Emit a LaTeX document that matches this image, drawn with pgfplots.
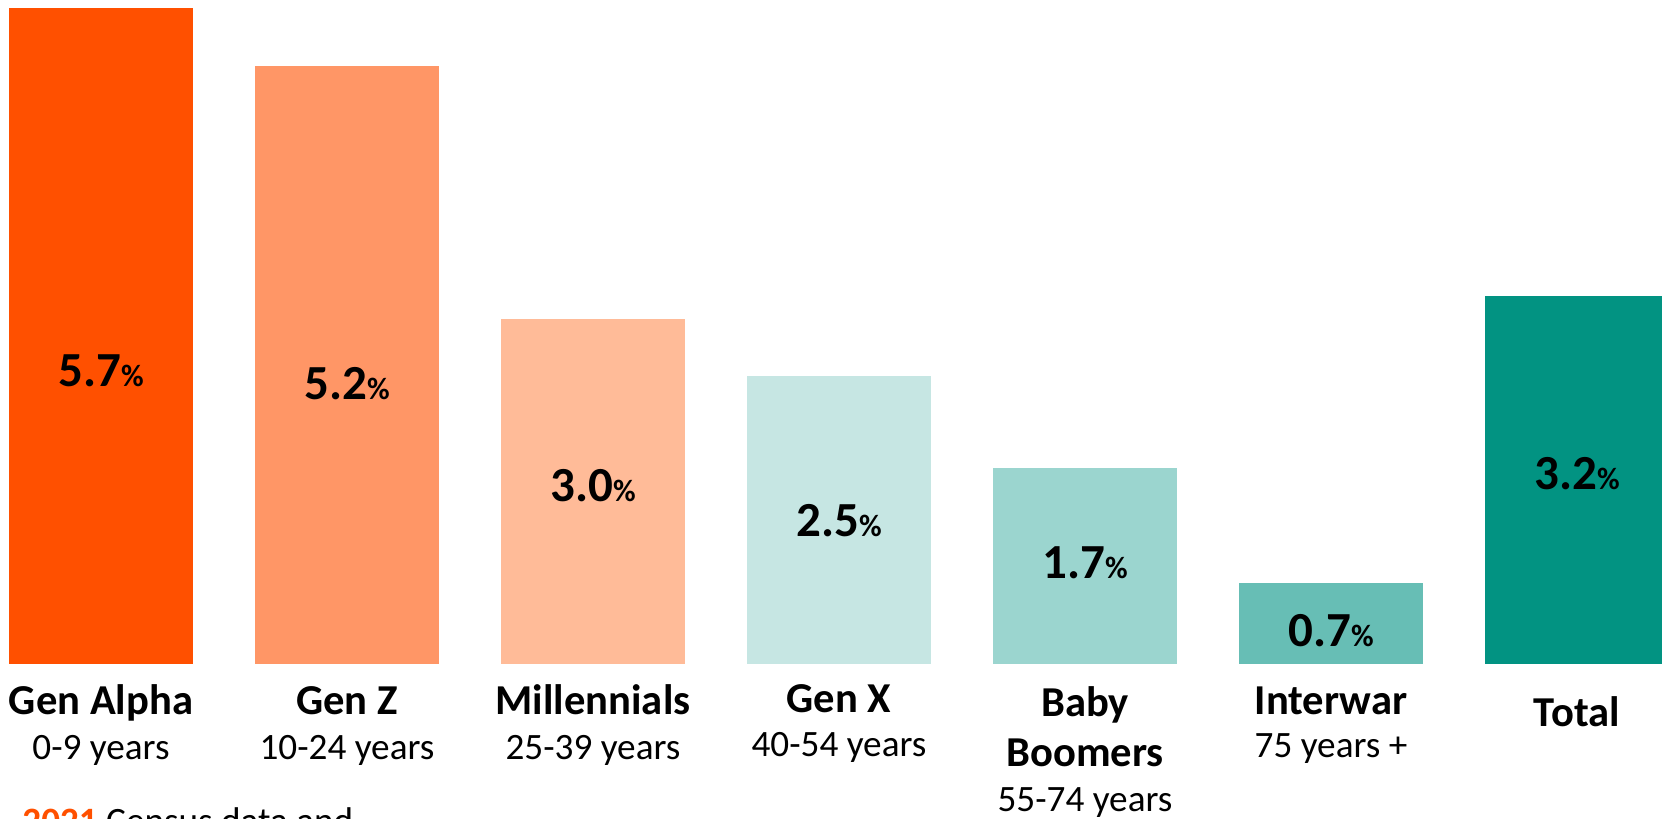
\documentclass[border=0pt]{standalone}
\usepackage{pgfplots}
\pgfplotsset{compat=1.18}
\usepackage{fontspec}
\setmainfont{Carlito}
\definecolor{cA}{RGB}{255,80,0}
\definecolor{cZ}{RGB}{255,150,102}
\definecolor{cM}{RGB}{255,187,152}
\definecolor{cX}{RGB}{198,230,227}
\definecolor{cB}{RGB}{155,213,207}
\definecolor{cI}{RGB}{103,190,181}
\definecolor{cT}{RGB}{2,147,130}
\newcommand{\val}[1]{\fontsize{24.5}{24.5}\selectfont\bfseries #1{\fontsize{15.5}{15.5}\selectfont\%}}
\newcommand{\cat}{\fontsize{21.3}{21.3}\selectfont\bfseries}
\newcommand{\sub}{\fontsize{18.6}{18.6}\selectfont}
\begin{document}
\begin{tikzpicture}
\begin{axis}[
  at={(0,0)}, anchor=south west,
  scale only axis, width=831pt, height=409.5pt,
  xmin=-0.41057, xmax=6.3455,
  ymin=-1.3478, ymax=5.7739,
  hide axis, clip=false,
]
\addplot[ybar, bar shift=0pt, bar width=92pt, fill=cA, draw=none] coordinates {(0,5.7)};
\addplot[ybar, bar shift=0pt, bar width=92pt, fill=cZ, draw=none] coordinates {(1,5.2)};
\addplot[ybar, bar shift=0pt, bar width=92pt, fill=cM, draw=none] coordinates {(2,3.0)};
\addplot[ybar, bar shift=0pt, bar width=92pt, fill=cX, draw=none] coordinates {(3,2.5)};
\addplot[ybar, bar shift=0pt, bar width=92pt, fill=cB, draw=none] coordinates {(4,1.7)};
\addplot[ybar, bar shift=0pt, bar width=92pt, fill=cI, draw=none] coordinates {(5,0.7)};
\addplot[ybar, bar shift=0pt, bar width=92pt, fill=cT, draw=none] coordinates {(6,3.2)};
% value labels
\node[anchor=base, inner sep=0pt] at (axis cs:0,{(664-387)/115}) {\val{5.7}};
\node[anchor=base, inner sep=0pt] at (axis cs:1,{(664-400)/115}) {\val{5.2}};
\node[anchor=base, inner sep=0pt] at (axis cs:2,{(664-502)/115}) {\val{3.0}};
\node[anchor=base, inner sep=0pt] at (axis cs:3,{(664-537)/115}) {\val{2.5}};
\node[anchor=base, inner sep=0pt] at (axis cs:4,{(664-579)/115}) {\val{1.7}};
\node[anchor=base, inner sep=0pt] at (axis cs:5,{(664-647)/115}) {\val{0.7}};
\node[anchor=base, inner sep=0pt] at (axis cs:6,{(664-490)/115}) {\val{3.2}};
% category labels
\node[anchor=base, inner sep=0pt] at (axis cs:0,{(664-715)/115}) {\cat Gen Alpha};
\node[anchor=base, inner sep=0pt] at (axis cs:0,{(664-760)/115}) {\sub 0-9 years};
\node[anchor=base, inner sep=0pt] at (axis cs:1,{(664-715)/115}) {\cat Gen Z};
\node[anchor=base, inner sep=0pt] at (axis cs:1,{(664-760)/115}) {\sub 10-24 years};
\node[anchor=base, inner sep=0pt] at (axis cs:2,{(664-715)/115}) {\cat Millennials};
\node[anchor=base, inner sep=0pt] at (axis cs:2,{(664-760)/115}) {\sub 25-39 years};
\node[anchor=base, inner sep=0pt] at (axis cs:3,{(664-713)/115}) {\cat Gen X};
\node[anchor=base, inner sep=0pt] at (axis cs:3,{(664-757)/115}) {\sub 40-54 years};
\node[anchor=base, inner sep=0pt] at (axis cs:4,{(664-717)/115}) {\cat Baby};
\node[anchor=base, inner sep=0pt] at (axis cs:4,{(664-767)/115}) {\cat Boomers};
\node[anchor=base, inner sep=0pt] at (axis cs:4,{(664-812)/115}) {\sub 55-74 years};
\node[anchor=base, inner sep=0pt] at (axis cs:5,{(664-715)/115}) {\cat Interwar};
\node[anchor=base, inner sep=0pt] at (axis cs:5,{(664-758)/115}) {\sub 75 years +};
\node[anchor=base, inner sep=0pt] at (axis cs:6,{(664-727)/115}) {\cat Total};
% note at the bottom, cut by the page edge as in the reference
\node[anchor=base west, inner sep=0pt] at (axis cs:-0.3211,{(664-834)/115}) {\sub\textbf{\color{cA}2021} Census data and};
\end{axis}
\pgfresetboundingbox
\useasboundingbox (0,0) rectangle (831pt,409.5pt);
\end{tikzpicture}
\end{document}
